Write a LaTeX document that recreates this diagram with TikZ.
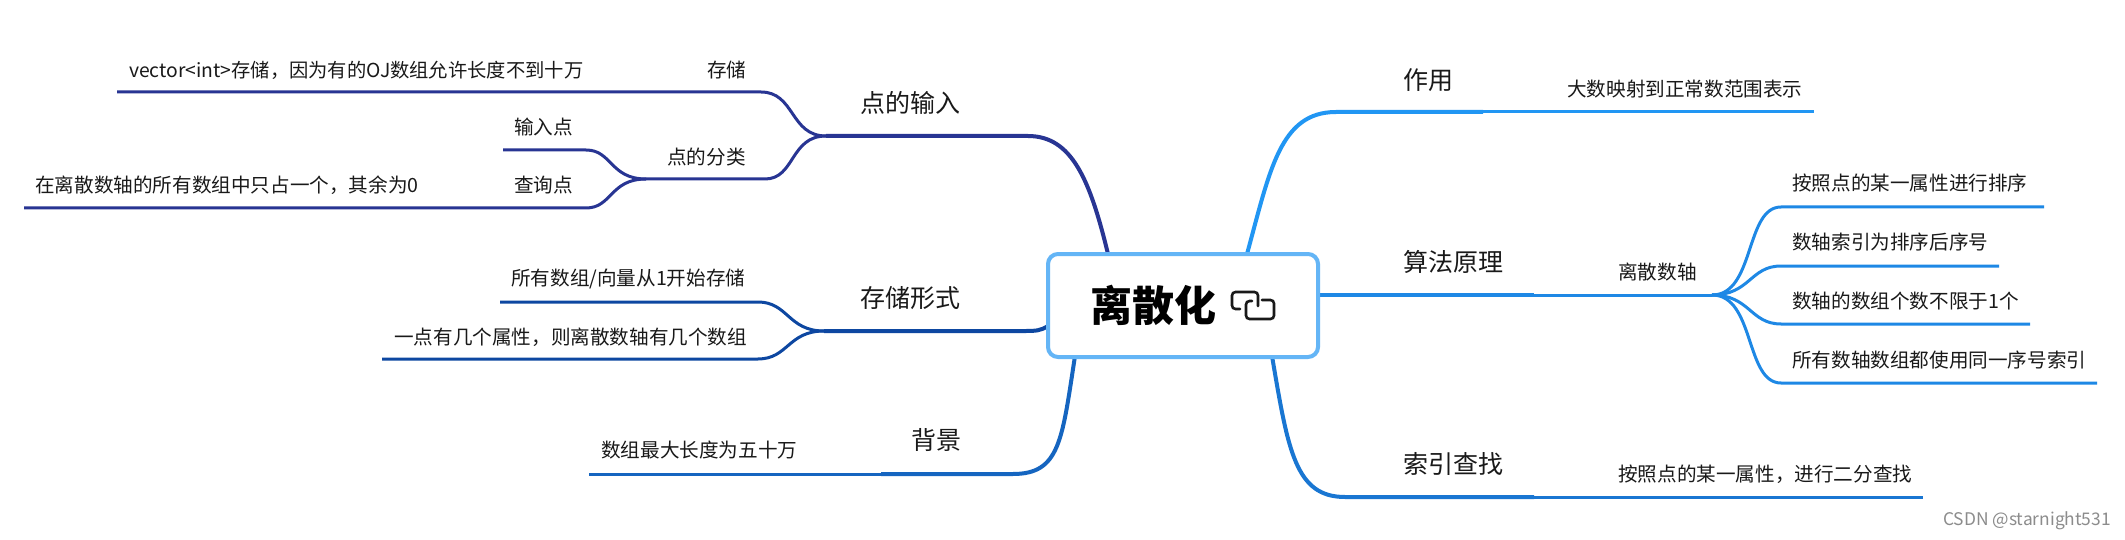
\documentclass[tikz,border=0pt]{standalone}
\usepackage{fontspec}
\setmainfont{Noto Sans CJK SC}
\definecolor{navy}{HTML}{283593}
\definecolor{deepb}{HTML}{0D47A1}
\definecolor{bgb}{HTML}{1565C0}
\definecolor{findb}{HTML}{1976D2}
\definecolor{algb}{HTML}{1E88E5}
\definecolor{useb}{HTML}{2196F3}
\definecolor{rootb}{HTML}{64B5F6}
\tikzset{
  maintext/.style={anchor=west,inner sep=0pt,text=black!90,font=\fontsize{25}{25}\selectfont},
  subtext/.style={anchor=west,inner sep=0pt,yshift=1pt,text=black!90,font=\fontsize{19.6}{20}\selectfont},
  mainline/.style={line width=4pt},
  subline/.style={line width=3pt},
  rootbox/.style={draw=rootb,line width=4pt,fill=white,rounded corners=10pt,minimum width=270pt,minimum height=103pt,inner sep=0pt},
  icon/.style={draw=black!90,line width=2.6pt,rounded corners=3.5pt,line cap=round}
}
\begin{document}
\begin{tikzpicture}[x=1pt,y=-1pt]
\useasboundingbox (0,0) rectangle (2125,540);
\fill[white] (0,0) rectangle (2125,540);
% junction coordinates
\coordinate (inTop) at (1108,254);
\coordinate (inA) at (1028,136);
\coordinate (inB) at (826,136);
\coordinate (stA) at (761,92);
\coordinate (stB) at (117,92);
\coordinate (clA) at (765,179);
\coordinate (clB) at (646,179);
\coordinate (ipA) at (586,150);
\coordinate (ipB) at (503,150);
\coordinate (qpA) at (586,208);
\coordinate (qpB) at (24,208);
\coordinate (frRoot) at (1048,326);
\coordinate (frA) at (1026,331);
\coordinate (frB) at (824,331);
\coordinate (f1A) at (758,302);
\coordinate (f1B) at (500,302);
\coordinate (f2A) at (758,359);
\coordinate (f2B) at (382,359);
\coordinate (bgRoot) at (1075,356);
\coordinate (bgA) at (1013,474);
\coordinate (bgB) at (881,474);
\coordinate (bgC) at (589,474);
\coordinate (useRoot) at (1247,254);
\coordinate (useA) at (1336,112);
\coordinate (useB) at (1483,112);
\coordinate (useC) at (1814,112);
\coordinate (algRoot) at (1318,295);
\coordinate (algB) at (1534,295);
\coordinate (algC) at (1712,295);
\coordinate (a1A) at (1781,207);
\coordinate (a1B) at (2044,207);
\coordinate (a2A) at (1781,266);
\coordinate (a2B) at (1999,266);
\coordinate (a3A) at (1781,324);
\coordinate (a3B) at (2030,324);
\coordinate (a4A) at (1781,383);
\coordinate (a4B) at (2097,383);
\coordinate (fdRoot) at (1272,356);
\coordinate (fdA) at (1345,497);
\coordinate (fdB) at (1534,497);
\coordinate (fdC) at (1923,497);
% left branches
\draw[navy,mainline] (inTop) .. controls (1090,180) and (1072,136) .. (inA) -- (inB);
\draw[navy,subline] (inB) .. controls (790,136) and (795,92) .. (stA) -- (stB);
\draw[navy,subline] (inB) .. controls (790,136) and (795,179) .. (clA) -- (clB);
\draw[navy,subline] (clB) .. controls (610,179) and (612,150) .. (ipA) -- (ipB);
\draw[navy,subline] (clB) .. controls (610,179) and (612,208) .. (qpA) -- (qpB);
\draw[deepb,mainline] (frRoot) .. controls (1040,331) and (1035,331) .. (frA) -- (frB);
\draw[deepb,subline] (frB) .. controls (788,331) and (788,302) .. (f1A) -- (f1B);
\draw[deepb,subline] (frB) .. controls (788,331) and (788,359) .. (f2A) -- (f2B);
\draw[bgb,mainline] (bgRoot) .. controls (1062,440) and (1060,474) .. (bgA) -- (bgB);
\draw[bgb,subline] (bgB) -- (bgC);
% right branches
\draw[useb,mainline] (useRoot) .. controls (1270,170) and (1280,112) .. (useA) -- (useB);
\draw[useb,subline] (useB) -- (useC);
\draw[algb,mainline] (algRoot) -- (algB);
\draw[algb,subline] (algB) -- (algC);
\draw[algb,subline] (algC) .. controls (1755,295) and (1745,207) .. (a1A) -- (a1B);
\draw[algb,subline] (algC) .. controls (1750,295) and (1750,266) .. (a2A) -- (a2B);
\draw[algb,subline] (algC) .. controls (1750,295) and (1750,324) .. (a3A) -- (a3B);
\draw[algb,subline] (algC) .. controls (1755,295) and (1745,383) .. (a4A) -- (a4B);
\draw[findb,mainline] (fdRoot) .. controls (1288,450) and (1295,497) .. (fdA) -- (fdB);
\draw[findb,subline] (fdB) -- (fdC);
% root
\node[rootbox] (root) at (1183,305.5) {};
\node[anchor=west,inner sep=0pt,text=black,font=\fontsize{42}{42}\selectfont\bfseries] (rootlabel) at (1090,305) {离散化};
\draw[icon] (1240,309) -- (1232,309) -- (1232,292) -- (1258,292) -- (1258,306);
\draw[icon] (1262,300) -- (1274,300) -- (1274,319) -- (1246,319) -- (1246,301) -- (1252,301);
% main labels
\node[maintext] (tIn) at (860,103) {点的输入};
\node[maintext] (tForm) at (860,298) {存储形式};
\node[maintext] (tBg) at (911,440) {背景};
\node[maintext] (tUse) at (1403,80) {作用};
\node[maintext] (tAlg) at (1403,262) {算法原理};
\node[maintext] (tFind) at (1403,464) {索引查找};
% sub labels
\node[subtext] (tSt) at (707,71) {存储};
\node[subtext,font=\fontsize{19.3}{20}\selectfont] (tVec) at (129,71) {vector<int>存储，因为有的OJ数组允许长度不到十万};
\node[subtext] (tCl) at (667,158) {点的分类};
\node[subtext] (tIp) at (514,128) {输入点};
\node[subtext] (tQp) at (514,186) {查询点};
\node[subtext] (tOne) at (35,186) {在离散数轴的所有数组中只占一个，其余为0};
\node[subtext] (tF1) at (511,280) {所有数组/向量从1开始存储};
\node[subtext] (tF2) at (394,338) {一点有几个属性，则离散数轴有几个数组};
\node[subtext] (tMax) at (601,451) {数组最大长度为五十万};
\node[subtext] (tMap) at (1567,90) {大数映射到正常数范围表示};
\node[subtext] (tAx) at (1618,273) {离散数轴};
\node[subtext] (tA1) at (1792,184) {按照点的某一属性进行排序};
\node[subtext] (tA2) at (1792,243) {数轴索引为排序后序号};
\node[subtext] (tA3) at (1792,302) {数轴的数组个数不限于1个};
\node[subtext] (tA4) at (1792,361) {所有数轴数组都使用同一序号索引};
\node[subtext] (tFd) at (1618,475) {按照点的某一属性，进行二分查找};
\node[anchor=west,inner sep=0pt,text=black!45,font=\fontsize{17.4}{18}\selectfont] (wm) at (1943,521) {CSDN @starnight531};
\end{tikzpicture}
\end{document}
